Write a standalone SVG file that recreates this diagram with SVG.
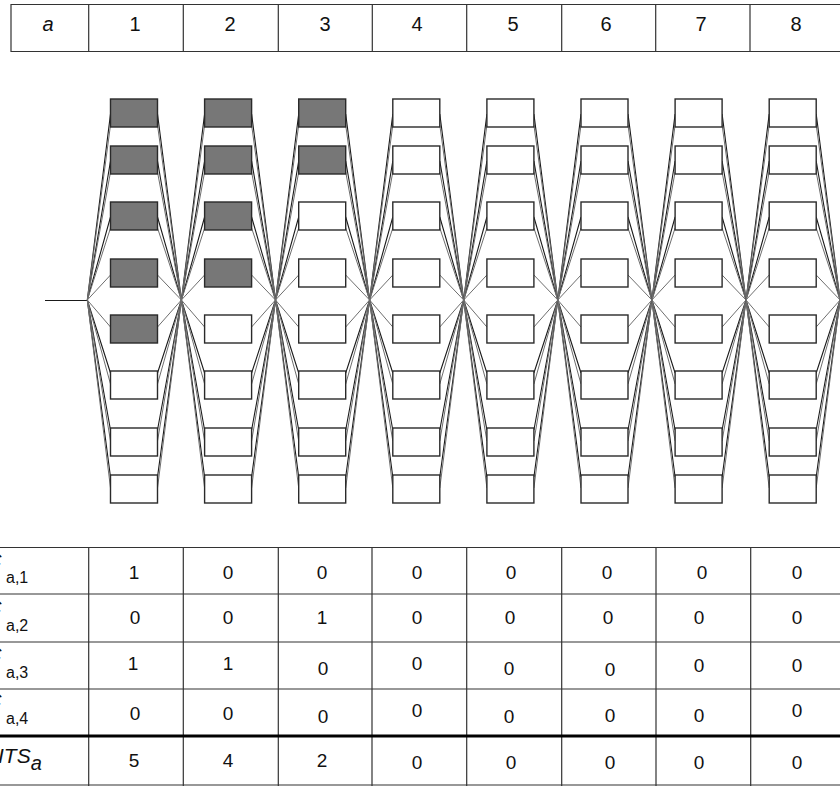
<svg xmlns="http://www.w3.org/2000/svg" xmlns:xlink="http://www.w3.org/1999/xlink" width="840" height="786" viewBox="0 0 840 786">
<style>
.box{stroke:#2a2a2a;stroke-width:1.4}
.on{fill:#777}
.off{fill:#fff}
.wd{fill:none;stroke:#1a1a1a;stroke-width:1.1}
.wg{fill:none;stroke:#6e6e6e;stroke-width:1}
.grid{stroke:#333;stroke-width:1.2;fill:none}
.thick{stroke:#000;stroke-width:3.2;fill:none}
.t{font-family:"Liberation Sans",Arial,sans-serif;font-size:19px;text-anchor:middle;fill:#111}
.h{font-family:"Liberation Sans",Arial,sans-serif;font-size:20px;text-anchor:middle;fill:#111}
.sub{font-family:"Liberation Sans",Arial,sans-serif;font-size:16px;fill:#111}
.cc{font-family:"Liberation Sans",Arial,sans-serif;font-size:18px;font-style:italic;fill:#111}
.its{font-family:"Liberation Sans",Arial,sans-serif;font-size:21px;font-style:italic;fill:#111}
.it{font-style:italic}
</style>
<defs>
<g id="wires">
<path class="wd" d="M0 300L23.2 114M0 300L23.2 161M0 300L23.2 217M0 300L23.2 373M0 300L23.2 430M0 300L23.2 477M70.2 114L94.1 300M70.2 161L94.1 300M70.2 217L94.1 300M70.2 373L94.1 300M70.2 430L94.1 300M70.2 477L94.1 300"/>
<path class="wg" d="M0 300L23.2 125M0 300L23.2 172M0 300L23.2 228M0 300L23.2 275M0 300L23.2 327M0 300L23.2 384M0 300L23.2 441M0 300L23.2 488M70.2 125L94.1 300M70.2 172L94.1 300M70.2 228L94.1 300M70.2 275L94.1 300M70.2 327L94.1 300M70.2 384L94.1 300M70.2 441L94.1 300M70.2 488L94.1 300"/>
</g>
</defs>

<g id="header-table">
<path class="grid" d="M11 4.5H840M11 51.5H840M11 4V52M88.7 4V52M183.3 4V52M278.3 4V52M372.3 4V52M466.7 4V52M561.7 4V52M655.7 4V52M750 4V52"/>
<text class="h it" x="48" y="31">a</text>
<text class="h" x="135" y="31">1</text>
<text class="h" x="230" y="31">2</text>
<text class="h" x="325" y="31">3</text>
<text class="h" x="417" y="31">4</text>
<text class="h" x="513" y="31">5</text>
<text class="h" x="606" y="31">6</text>
<text class="h" x="701" y="31">7</text>
<text class="h" x="796" y="31">8</text>
</g>

<g id="connectors">
<path class="wd" d="M45 300.5H87.3"/>
<use xlink:href="#wires" transform="translate(87.3,0)"/>
<use xlink:href="#wires" transform="translate(181.4,0)"/>
<use xlink:href="#wires" transform="translate(275.5,0)"/>
<use xlink:href="#wires" transform="translate(369.6,0)"/>
<use xlink:href="#wires" transform="translate(463.7,0)"/>
<use xlink:href="#wires" transform="translate(557.8,0)"/>
<use xlink:href="#wires" transform="translate(651.9,0)"/>
<use xlink:href="#wires" transform="translate(746,0)"/>
</g>

<g id="nodes">
<g id="n1-1"><rect class="box on" x="110.5" y="99" width="47" height="28"/></g>
<g id="n1-2"><rect class="box on" x="110.5" y="146" width="47" height="28"/></g>
<g id="n1-3"><rect class="box on" x="110.5" y="202" width="47" height="28"/></g>
<g id="n1-4"><rect class="box on" x="110.5" y="259" width="47" height="28"/></g>
<g id="n1-5"><rect class="box on" x="110.5" y="315" width="47" height="28"/></g>
<g id="n1-6"><rect class="box off" x="110.5" y="371" width="47" height="28"/></g>
<g id="n1-7"><rect class="box off" x="110.5" y="428" width="47" height="28"/></g>
<g id="n1-8"><rect class="box off" x="110.5" y="475" width="47" height="28"/></g>

<g id="n2-1"><rect class="box on" x="204.6" y="99" width="47" height="28"/></g>
<g id="n2-2"><rect class="box on" x="204.6" y="146" width="47" height="28"/></g>
<g id="n2-3"><rect class="box on" x="204.6" y="202" width="47" height="28"/></g>
<g id="n2-4"><rect class="box on" x="204.6" y="259" width="47" height="28"/></g>
<g id="n2-5"><rect class="box off" x="204.6" y="315" width="47" height="28"/></g>
<g id="n2-6"><rect class="box off" x="204.6" y="371" width="47" height="28"/></g>
<g id="n2-7"><rect class="box off" x="204.6" y="428" width="47" height="28"/></g>
<g id="n2-8"><rect class="box off" x="204.6" y="475" width="47" height="28"/></g>

<g id="n3-1"><rect class="box on" x="298.7" y="99" width="47" height="28"/></g>
<g id="n3-2"><rect class="box on" x="298.7" y="146" width="47" height="28"/></g>
<g id="n3-3"><rect class="box off" x="298.7" y="202" width="47" height="28"/></g>
<g id="n3-4"><rect class="box off" x="298.7" y="259" width="47" height="28"/></g>
<g id="n3-5"><rect class="box off" x="298.7" y="315" width="47" height="28"/></g>
<g id="n3-6"><rect class="box off" x="298.7" y="371" width="47" height="28"/></g>
<g id="n3-7"><rect class="box off" x="298.7" y="428" width="47" height="28"/></g>
<g id="n3-8"><rect class="box off" x="298.7" y="475" width="47" height="28"/></g>

<g id="n4-1"><rect class="box off" x="392.8" y="99" width="47" height="28"/></g>
<g id="n4-2"><rect class="box off" x="392.8" y="146" width="47" height="28"/></g>
<g id="n4-3"><rect class="box off" x="392.8" y="202" width="47" height="28"/></g>
<g id="n4-4"><rect class="box off" x="392.8" y="259" width="47" height="28"/></g>
<g id="n4-5"><rect class="box off" x="392.8" y="315" width="47" height="28"/></g>
<g id="n4-6"><rect class="box off" x="392.8" y="371" width="47" height="28"/></g>
<g id="n4-7"><rect class="box off" x="392.8" y="428" width="47" height="28"/></g>
<g id="n4-8"><rect class="box off" x="392.8" y="475" width="47" height="28"/></g>

<g id="n5-1"><rect class="box off" x="486.9" y="99" width="47" height="28"/></g>
<g id="n5-2"><rect class="box off" x="486.9" y="146" width="47" height="28"/></g>
<g id="n5-3"><rect class="box off" x="486.9" y="202" width="47" height="28"/></g>
<g id="n5-4"><rect class="box off" x="486.9" y="259" width="47" height="28"/></g>
<g id="n5-5"><rect class="box off" x="486.9" y="315" width="47" height="28"/></g>
<g id="n5-6"><rect class="box off" x="486.9" y="371" width="47" height="28"/></g>
<g id="n5-7"><rect class="box off" x="486.9" y="428" width="47" height="28"/></g>
<g id="n5-8"><rect class="box off" x="486.9" y="475" width="47" height="28"/></g>

<g id="n6-1"><rect class="box off" x="581" y="99" width="47" height="28"/></g>
<g id="n6-2"><rect class="box off" x="581" y="146" width="47" height="28"/></g>
<g id="n6-3"><rect class="box off" x="581" y="202" width="47" height="28"/></g>
<g id="n6-4"><rect class="box off" x="581" y="259" width="47" height="28"/></g>
<g id="n6-5"><rect class="box off" x="581" y="315" width="47" height="28"/></g>
<g id="n6-6"><rect class="box off" x="581" y="371" width="47" height="28"/></g>
<g id="n6-7"><rect class="box off" x="581" y="428" width="47" height="28"/></g>
<g id="n6-8"><rect class="box off" x="581" y="475" width="47" height="28"/></g>

<g id="n7-1"><rect class="box off" x="675.1" y="99" width="47" height="28"/></g>
<g id="n7-2"><rect class="box off" x="675.1" y="146" width="47" height="28"/></g>
<g id="n7-3"><rect class="box off" x="675.1" y="202" width="47" height="28"/></g>
<g id="n7-4"><rect class="box off" x="675.1" y="259" width="47" height="28"/></g>
<g id="n7-5"><rect class="box off" x="675.1" y="315" width="47" height="28"/></g>
<g id="n7-6"><rect class="box off" x="675.1" y="371" width="47" height="28"/></g>
<g id="n7-7"><rect class="box off" x="675.1" y="428" width="47" height="28"/></g>
<g id="n7-8"><rect class="box off" x="675.1" y="475" width="47" height="28"/></g>

<g id="n8-1"><rect class="box off" x="769.2" y="99" width="47" height="28"/></g>
<g id="n8-2"><rect class="box off" x="769.2" y="146" width="47" height="28"/></g>
<g id="n8-3"><rect class="box off" x="769.2" y="202" width="47" height="28"/></g>
<g id="n8-4"><rect class="box off" x="769.2" y="259" width="47" height="28"/></g>
<g id="n8-5"><rect class="box off" x="769.2" y="315" width="47" height="28"/></g>
<g id="n8-6"><rect class="box off" x="769.2" y="371" width="47" height="28"/></g>
<g id="n8-7"><rect class="box off" x="769.2" y="428" width="47" height="28"/></g>
<g id="n8-8"><rect class="box off" x="769.2" y="475" width="47" height="28"/></g>
</g>

<g id="result-table">
<path class="grid" d="M0 547.5H840M0 594H840M0 642H840M0 689H840M0 785H840M88.7 547V786M183.3 547V786M278.3 547V786M372 547V786M466.7 547V786M561.7 547V786M656 547V786M750.7 547V786"/>
<path class="thick" d="M0 736H840"/>

<text class="cc" x="-11.5" y="567">C</text>
<text class="sub" x="6" y="583">a,1</text>
<text class="cc" x="-11.5" y="614">C</text>
<text class="sub" x="6" y="631">a,2</text>
<text class="cc" x="-11.5" y="661">C</text>
<text class="sub" x="6" y="678">a,3</text>
<text class="cc" x="-11.5" y="707">C</text>
<text class="sub" x="6" y="724">a,4</text>
<text class="its" x="-2" y="763">ITS<tspan dy="7" style="font-size:20px">a</tspan></text>

<text class="t" x="134" y="579">1</text>
<text class="t" x="228" y="579">0</text>
<text class="t" x="322" y="579">0</text>
<text class="t" x="417" y="579">0</text>
<text class="t" x="511" y="579">0</text>
<text class="t" x="607" y="579">0</text>
<text class="t" x="702" y="579">0</text>
<text class="t" x="797" y="579">0</text>

<text class="t" x="135" y="624">0</text>
<text class="t" x="228" y="624">0</text>
<text class="t" x="322" y="624">1</text>
<text class="t" x="417" y="624">0</text>
<text class="t" x="510" y="624">0</text>
<text class="t" x="608" y="624">0</text>
<text class="t" x="699" y="624">0</text>
<text class="t" x="797" y="624">0</text>

<text class="t" x="133" y="670">1</text>
<text class="t" x="228" y="670">1</text>
<text class="t" x="323" y="675">0</text>
<text class="t" x="417" y="670">0</text>
<text class="t" x="509" y="675">0</text>
<text class="t" x="610" y="676">0</text>
<text class="t" x="699" y="672">0</text>
<text class="t" x="797" y="672">0</text>

<text class="t" x="135" y="720">0</text>
<text class="t" x="228" y="720">0</text>
<text class="t" x="323" y="723">0</text>
<text class="t" x="417" y="717">0</text>
<text class="t" x="509" y="723">0</text>
<text class="t" x="610" y="722">0</text>
<text class="t" x="699" y="722">0</text>
<text class="t" x="797" y="717">0</text>

<text class="t" x="134" y="767">5</text>
<text class="t" x="228" y="767">4</text>
<text class="t" x="322" y="767">2</text>
<text class="t" x="417" y="769">0</text>
<text class="t" x="511" y="769">0</text>
<text class="t" x="610" y="769">0</text>
<text class="t" x="699" y="769">0</text>
<text class="t" x="797" y="769">0</text>
</g>
</svg>
